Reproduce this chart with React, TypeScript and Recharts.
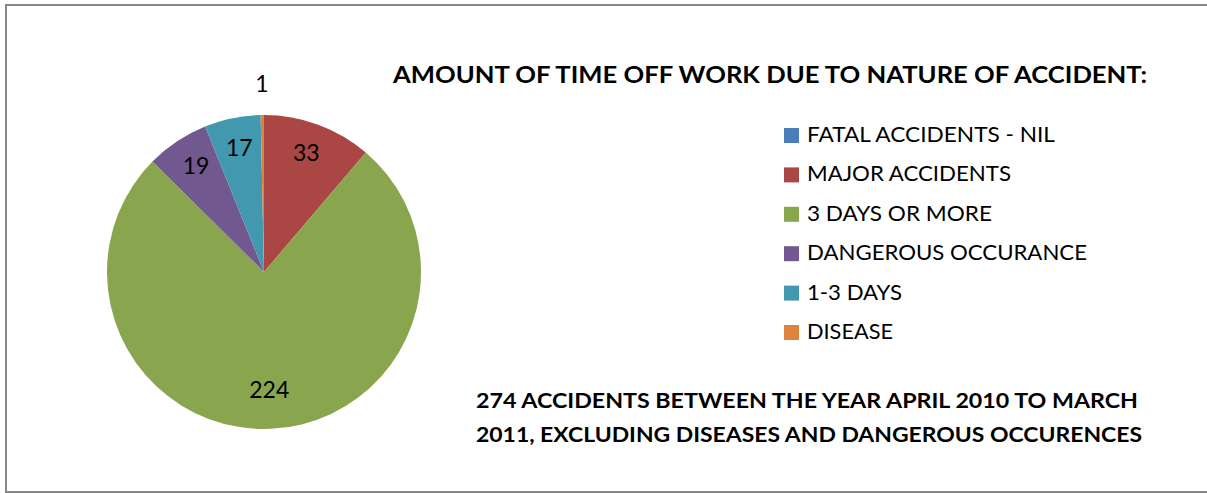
import { PieChart, Pie, Cell, Legend } from 'recharts';

const categories = [
  'FATAL ACCIDENTS - NIL',
  'MAJOR ACCIDENTS',
  '3 DAYS OR MORE',
  'DANGEROUS OCCURANCE',
  '1-3 DAYS',
  'DISEASE',
];
const values = [0, 33, 224, 19, 17, 1];
const title = 'AMOUNT OF TIME OFF WORK  DUE TO NATURE OF ACCIDENT:';
const noteLines = [
  '274 ACCIDENTS BETWEEN THE YEAR  APRIL 2010 TO MARCH',
  '2011, EXCLUDING DISEASES AND DANGEROUS OCCURENCES',
];

const COLORS = ['#4A7EBB', '#AA4643', '#89A54E', '#71588F', '#4198AF', '#DB843D'];
const LEGEND_WIDTHS = [248, 204, 185, 280, 95, 86];
const FONT = 'Lato, "Open Sans", sans-serif';
const RAD = Math.PI / 180;

const data = categories.map((name, i) => ({ name, value: values[i] }));

const renderLabel = ({ cx, cy, midAngle, outerRadius, value, percent }: any) => {
  if (!value) return null;
  // tiny slices get their label outside the pie, like Excel does
  const r = percent < 0.02 ? outerRadius + 27 : outerRadius * 0.78;
  const x = cx + r * Math.cos(-midAngle * RAD);
  const y = cy + r * Math.sin(-midAngle * RAD) - 5;
  return (
    <text x={x} y={y} textAnchor="middle" dominantBaseline="central" fontFamily={FONT} fontSize={23} fill="#000">
      {value}
    </text>
  );
};

const renderLegend = () => (
  <svg width={360} height={230}>
    {categories.map((name, i) => (
      <g key={name}>
        <rect x={4} y={8 + i * 39.4} width={15} height={15} fill={COLORS[i]} />
        <text
          x={27}
          y={22 + i * 39.4}
          fontFamily={FONT}
          fontSize={21}
          fill="#000"
          textLength={LEGEND_WIDTHS[i]}
          lengthAdjust="spacingAndGlyphs"
        >
          {name}
        </text>
      </g>
    ))}
  </svg>
);

export default function App() {
  return (
    <div style={{ position: 'absolute', left: 0, top: 0, width: 1207, height: 493, overflow: 'hidden', background: '#fff' }}>
      {/* chart frame, right edge runs off the picture */}
      <div
        style={{
          position: 'absolute',
          left: 5,
          top: 4,
          width: 1202,
          height: 489,
          boxSizing: 'border-box',
          border: '2px solid #868686',
          borderRight: 'none',
        }}
      />
      <PieChart width={1207} height={493} style={{ position: 'absolute', left: 0, top: 0 }}>
        <Pie
          data={data}
          dataKey="value"
          nameKey="name"
          cx={259}
          cy={267}
          outerRadius={157}
          startAngle={90}
          endAngle={-270}
          stroke="none"
          label={renderLabel}
          labelLine={false}
          isAnimationActive={false}
        >
          {data.map((entry, index) => (
            <Cell key={`cell-${index}`} fill={COLORS[index]} />
          ))}
        </Pie>
        <Legend
          layout="vertical"
          content={renderLegend}
          wrapperStyle={{ position: 'absolute', left: 780, top: 120, width: 360, height: 230 }}
        />
      </PieChart>
      <svg width={1207} height={493} style={{ position: 'absolute', left: 0, top: 0, pointerEvents: 'none', whiteSpace: 'pre' }}>
        <text x={393} y={83} fontFamily={FONT} fontWeight="bold" fontSize={22} textLength={754} lengthAdjust="spacingAndGlyphs">
          {title}
        </text>
        <text x={476} y={408} fontFamily={FONT} fontWeight="bold" fontSize={21.5} textLength={662} lengthAdjust="spacingAndGlyphs">
          {noteLines[0]}
        </text>
        <text x={476} y={442} fontFamily={FONT} fontWeight="bold" fontSize={21.5} textLength={666} lengthAdjust="spacingAndGlyphs">
          {noteLines[1]}
        </text>
      </svg>
    </div>
  );
}
